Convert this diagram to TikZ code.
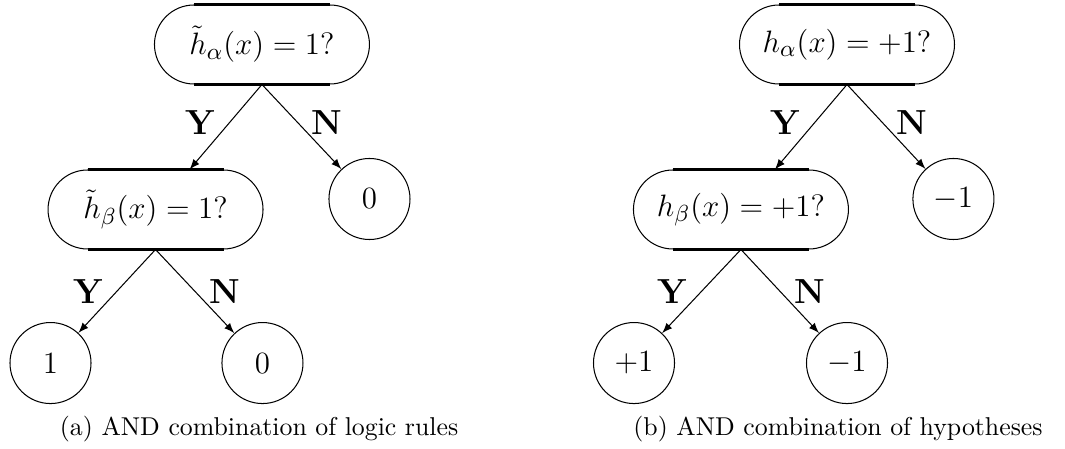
\documentclass[tikz,border=0pt]{standalone}
\usetikzlibrary{shapes.misc}
\tikzset{
  test/.style={rounded rectangle, draw, inner sep=0pt, font=\fontsize{13}{15}\selectfont,
    minimum width=2.929cm, minimum height=1.076cm,
    append after command={
      ([xshift=-0.9265cm]\tikzlastnode.north) edge[line width=0.8pt] ([xshift=0.9265cm]\tikzlastnode.north)
      ([xshift=-0.9265cm]\tikzlastnode.south) edge[line width=0.8pt] ([xshift=0.9265cm]\tikzlastnode.south)}},
  leaf/.style={circle, draw, inner sep=0pt, minimum size=1.104cm, font=\fontsize{13}{15}\selectfont},
  ans/.style={font=\fontsize{13.5}{16}\selectfont\bfseries},
}
\begin{document}
\begin{tikzpicture}
  \useasboundingbox (0,0) rectangle (14.51,-6.117);
  % (a) logic rules
  \node[test] (rootA) at (3.569,-0.606) {$\tilde{h}_\alpha(x) = 1?$};
  \node[test] (midA) at (2.119,-2.854) {$\tilde{h}_\beta(x) = 1?$};
  \node[leaf] (zeroA) at (5.034,-2.711) {$0$};
  \node[leaf] (oneA) at (0.688,-4.946) {$1$};
  \node[leaf] (zeroB) at (3.576,-4.946) {$0$};
  \draw[-latex] (rootA.south) -- (midA) node[ans, pos=0.45, left=2pt] {Y};
  \draw[-latex] (rootA.south) -- (zeroA) node[ans, pos=0.45, right=2pt] {N};
  \draw[-latex] (midA.south) -- (oneA) node[ans, pos=0.5, left=2pt] {Y};
  \draw[-latex] (midA.south) -- (zeroB) node[ans, pos=0.5, right=2pt] {N};
  \node (capA) at (3.53,-5.845) {(a) AND combination of logic rules};
  % (b) hypotheses
  \node[test] (rootB) at (11.54,-0.606) {$h_\alpha(x) = +1?$};
  \node[test] (midB) at (10.095,-2.854) {$h_\beta(x) = +1?$};
  \node[leaf] (negA) at (12.99,-2.711) {$-1$};
  \node[leaf] (posA) at (8.638,-4.946) {$+1$};
  \node[leaf] (negB) at (11.54,-4.946) {$-1$};
  \draw[-latex] (rootB.south) -- (midB) node[ans, pos=0.45, left=2pt] {Y};
  \draw[-latex] (rootB.south) -- (negA) node[ans, pos=0.45, right=2pt] {N};
  \draw[-latex] (midB.south) -- (posA) node[ans, pos=0.5, left=2pt] {Y};
  \draw[-latex] (midB.south) -- (negB) node[ans, pos=0.5, right=2pt] {N};
  \node (capB) at (11.417,-5.845) {(b) AND combination of hypotheses};
\end{tikzpicture}
\end{document}
